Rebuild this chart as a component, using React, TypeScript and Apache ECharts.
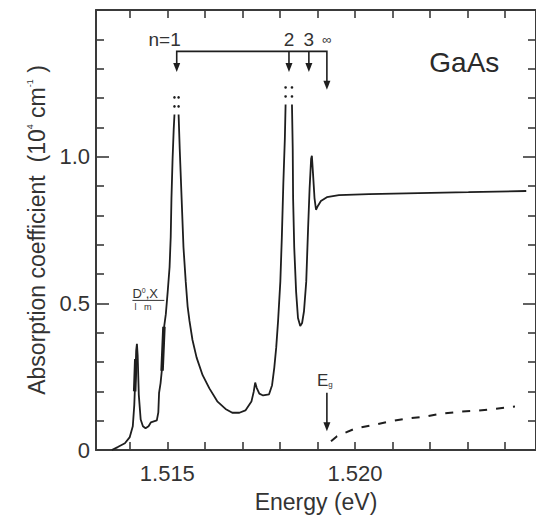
import React, { useEffect, useRef } from 'react';
import * as echarts from 'echarts';

// Photon energy (eV) and absorption coefficient (10^4 cm^-1) of high-purity GaAs.
// A null value marks where an off-scale exciton peak is broken off.
const energy = [
  1.51352, 1.51368, 1.51387, 1.514, 1.51408, 1.51412, 1.51415, 1.51417, 1.51419, 1.51421,
  1.51424, 1.51429, 1.51435, 1.51442, 1.5145, 1.51456, 1.51472, 1.51476, 1.51478, 1.51482,
  1.51488, 1.5149, 1.51496, 1.51501, 1.51506, 1.51509, 1.51511, 1.51514, 1.51517, 1.51519,
  1.51524,
  1.5153, 1.51533, 1.51538, 1.51543, 1.51549, 1.51554, 1.51559, 1.51567, 1.51578, 1.51594,
  1.51612, 1.51633, 1.51655, 1.51673, 1.51692, 1.51708, 1.51724, 1.5173, 1.51734, 1.51738,
  1.51745, 1.51755, 1.51771, 1.51779, 1.51785, 1.5179, 1.51795, 1.51801, 1.51805, 1.51809,
  1.51813, 1.51815,
  1.51824,
  1.51832, 1.51834, 1.51835, 1.51838, 1.51843, 1.51848, 1.51854, 1.51859, 1.51864, 1.5187,
  1.51875, 1.51879, 1.51883, 1.51885, 1.51888, 1.51892, 1.51896, 1.51901, 1.51909, 1.51925,
  1.51957, 1.52037, 1.52169, 1.52302, 1.52456,
];
const absorption = [
  0, 0.01, 0.023, 0.044, 0.081, 0.154, 0.255, 0.339, 0.362, 0.322,
  0.188, 0.104, 0.081, 0.074, 0.081, 0.094, 0.101, 0.128, 0.195, 0.228,
  0.305, 0.406, 0.463, 0.54, 0.624, 0.725, 0.859, 0.993, 1.094, 1.144,
  null,
  1.144, 1.027, 0.859, 0.691, 0.574, 0.49, 0.44, 0.375, 0.315, 0.255,
  0.21, 0.166, 0.14, 0.127, 0.127, 0.135, 0.165, 0.198, 0.23, 0.212,
  0.192, 0.186, 0.19, 0.221, 0.282, 0.349, 0.44, 0.574, 0.725, 0.909,
  1.06, 1.178,
  null,
  1.178, 1.027, 0.859, 0.691, 0.54, 0.45, 0.423, 0.433, 0.473, 0.574,
  0.758, 0.893, 0.993, 1.003, 0.943, 0.859, 0.819, 0.832, 0.849, 0.862,
  0.869, 0.872, 0.876, 0.879, 0.883,
];

// Dense bound-exciton line groups drawn heavier
const boundLineEnergy = [1.51413, 1.51416, null, 1.51486, 1.51491];
const boundLineAbs = [0.2, 0.31, null, 0.27, 0.42];

// Band-to-band continuum without excitonic enhancement (dashed)
const continuumEnergy = [
  1.51936, 1.51952, 1.52002, 1.52045, 1.5209, 1.52137, 1.52188, 1.5223, 1.52283, 1.52328,
  1.52376, 1.52426,
];
const continuumAbs = [
  0.03, 0.047, 0.074, 0.084, 0.097, 0.107, 0.114, 0.124, 0.131, 0.134, 0.141, 0.148,
];

// Exciton series n = 1, 2, 3, ... converging on the gap
const excitonLabels = ['n=1', '2', '3', '\u221e'];
const excitonEnergies = [1.51525, 1.51824, 1.51877, 1.51925];
const bandGap = 1.51925;

const xTicks = [1.514, 1.515, 1.516, 1.517, 1.518, 1.519, 1.52, 1.521, 1.522, 1.523, 1.524];
const xLabels = [1.515, 1.52];
const X_MIN = 1.5131;
const X_MAX = 1.52482;

const FONT = "'Liberation Sans', Arial, Helvetica, sans-serif";
const TEXT = '#333';
const INK = '#1e1e1e';
const AXIS = '#3a3a3a';

export default function App() {
  const ref = useRef<HTMLDivElement>(null);

  useEffect(() => {
    const chart = echarts.init(ref.current as HTMLDivElement, null, { renderer: 'svg' });
    const pairs = (xs: (number | null)[], ys: (number | null)[]) =>
      xs.map((x, i) => (x === null || ys[i] === null ? [x ?? NaN, NaN] : [x, ys[i]]));

    const axisLine = { show: true, onZero: false, lineStyle: { color: AXIS, width: 2 } };
    const tickStyle = { color: AXIS, width: 1.6 };

    chart.setOption({
      animation: false,
      backgroundColor: '#fff',
      grid: { left: 96, top: 10, width: 442, height: 447, containLabel: false },
      xAxis: [
        {
          type: 'value',
          position: 'bottom',
          min: X_MIN,
          max: X_MAX,
          name: 'Energy (eV)',
          nameLocation: 'middle',
          nameGap: 40,
          nameTextStyle: { fontFamily: FONT, fontSize: 23, color: TEXT },
          axisLine,
          axisTick: { show: true, inside: true, length: 8, customValues: xTicks, lineStyle: tickStyle },
          axisLabel: {
            customValues: xLabels,
            formatter: (v: number) => v.toFixed(3),
            fontFamily: FONT,
            fontSize: 22,
            color: TEXT,
            margin: 12,
          },
          splitLine: { show: false },
        },
        {
          type: 'value',
          position: 'top',
          min: X_MIN,
          max: X_MAX,
          axisLine,
          axisTick: { show: true, inside: true, length: 8, customValues: xTicks, lineStyle: tickStyle },
          axisLabel: { show: false },
          splitLine: { show: false },
        },
      ],
      yAxis: [
        {
          type: 'value',
          position: 'left',
          min: 0,
          max: 1.5,
          interval: 0.5,
          name: 'Absorption coefficient  (10{s|4} cm{s|-1} )',
          nameLocation: 'middle',
          nameRotate: 90,
          nameGap: 46,
          nameTextStyle: {
            fontFamily: FONT,
            fontSize: 23,
            color: TEXT,
            rich: { s: { fontFamily: FONT, fontSize: 9, color: TEXT, verticalAlign: 'top' } },
          },
          axisLine,
          axisTick: { show: true, inside: true, length: 13, lineStyle: tickStyle },
          minorTick: { show: true, splitNumber: 5, length: 8, lineStyle: tickStyle },
          axisLabel: {
            formatter: (v: number) => (v === 0 ? '0' : v > 1.4 ? '' : v.toFixed(1)),
            fontFamily: FONT,
            fontSize: 22,
            color: TEXT,
            margin: 6,
          },
          splitLine: { show: false },
          minorSplitLine: { show: false },
        },
        {
          type: 'value',
          position: 'right',
          min: 0,
          max: 1.5,
          interval: 0.5,
          axisLine,
          axisTick: { show: true, inside: true, length: 13, lineStyle: tickStyle },
          minorTick: { show: true, splitNumber: 5, length: 8, lineStyle: tickStyle },
          axisLabel: { show: false },
          splitLine: { show: false },
          minorSplitLine: { show: false },
        },
      ],
      series: [
        {
          type: 'line',
          data: pairs(energy, absorption),
          showSymbol: false,
          connectNulls: false,
          lineStyle: { color: INK, width: 1.8 },
        },
        {
          type: 'line',
          data: pairs(boundLineEnergy, boundLineAbs),
          showSymbol: false,
          connectNulls: false,
          lineStyle: { color: INK, width: 3.5 },
        },
        {
          type: 'line',
          data: pairs(continuumEnergy, continuumAbs),
          showSymbol: false,
          lineStyle: { color: INK, width: 2, type: [8, 9] },
        },
      ],
    });

    const px = (e: number, v: number) =>
      chart.convertToPixel({ xAxisIndex: 0, yAxisIndex: 0 }, [e, v]) as number[];

    const graphics: any[] = [];
    const lineStyle = { stroke: INK, lineWidth: 1.6, fill: null };
    const arrowHead = (x: number, y: number) => ({
      type: 'polygon',
      shape: { points: [[x - 3.5, y - 9], [x + 3.5, y - 9], [x, y]] },
      style: { fill: INK },
    });

    // Exciton series bracket with arrows
    const barV = 1.359;
    const tipV = 1.289;
    const infTipV = 1.228;
    const first = px(excitonEnergies[0], barV);
    const last = px(excitonEnergies[excitonEnergies.length - 1], barV);
    graphics.push({
      type: 'polyline',
      shape: { points: [[first[0], px(0, tipV)[1] - 8], first, last, [last[0], px(0, infTipV)[1] - 8]] },
      style: lineStyle,
    });
    excitonEnergies.forEach((e, i) => {
      const tipY = px(e, i === excitonEnergies.length - 1 ? infTipV : tipV);
      if (i > 0 && i < excitonEnergies.length - 1) {
        graphics.push({
          type: 'line',
          shape: { x1: tipY[0], y1: first[1], x2: tipY[0], y2: tipY[1] - 8 },
          style: lineStyle,
        });
      }
      graphics.push(arrowHead(tipY[0], tipY[1]));
      const lp = px(e, 1.4);
      const isFirst = i === 0;
      const isInf = i === excitonEnergies.length - 1;
      graphics.push({
        type: 'text',
        x: isFirst ? lp[0] + 4 : lp[0],
        y: lp[1],
        style: {
          text: excitonLabels[i],
          fontFamily: FONT,
          fontSize: isInf ? 13 : 19,
          fill: TEXT,
          align: isFirst ? 'right' : 'center',
          verticalAlign: 'middle',
        },
      });
    });

    // Break marks above the truncated peaks
    absorption.forEach((v, i) => {
      if (v !== null) return;
      const left = px(energy[i - 1], absorption[i - 1] as number);
      const right = px(energy[i + 1], absorption[i + 1] as number);
      const top = Math.min(left[1], right[1]);
      [8, 17].forEach((dy) => {
        [left[0], right[0]].forEach((x) => {
          graphics.push({ type: 'circle', shape: { cx: x, cy: top - dy, r: 1.3 }, style: { fill: INK } });
        });
      });
    });

    // Band gap marker
    const egTop = px(bandGap, 0.195);
    const egTip = px(bandGap, 0.064);
    graphics.push({
      type: 'line',
      shape: { x1: egTop[0], y1: egTop[1], x2: egTip[0], y2: egTip[1] - 8 },
      style: lineStyle,
    });
    graphics.push(arrowHead(egTip[0], egTip[1]));
    const egLabel = px(bandGap, 0.238);
    graphics.push({
      type: 'text',
      x: egLabel[0] - 2,
      y: egLabel[1],
      style: {
        text: '{a|E}{b|g}',
        align: 'center',
        verticalAlign: 'middle',
        rich: {
          a: { fontFamily: FONT, fontSize: 17, fill: TEXT },
          b: { fontFamily: FONT, fontSize: 8, fill: TEXT, verticalAlign: 'bottom' },
        },
      },
    });

    // Neutral-donor bound exciton label
    const dx = px(1.51407, 0.555);
    const dxEnd = px(1.51492, 0.51);
    graphics.push({
      type: 'text',
      x: dx[0],
      y: dx[1],
      style: {
        text: '{a|D}{s|0}{a|,X}',
        align: 'left',
        verticalAlign: 'top',
        rich: {
          a: { fontFamily: FONT, fontSize: 13, fill: TEXT },
          s: { fontFamily: FONT, fontSize: 7, fill: TEXT, verticalAlign: 'top' },
        },
      },
    });
    graphics.push({
      type: 'line',
      shape: { x1: dx[0], y1: dxEnd[1], x2: dxEnd[0], y2: dxEnd[1] },
      style: { stroke: TEXT, lineWidth: 1 },
    });
    graphics.push({
      type: 'text',
      x: dx[0] + 2,
      y: dxEnd[1] + 2,
      style: { text: 'l   m', fontFamily: FONT, fontSize: 9, fill: TEXT, align: 'left', verticalAlign: 'top' },
    });

    // Material label
    const mat = px(1.52291, 1.322);
    graphics.push({
      type: 'text',
      x: mat[0],
      y: mat[1],
      style: { text: 'GaAs', fontFamily: FONT, fontSize: 28, fill: '#2a2a2a', align: 'center', verticalAlign: 'middle' },
    });

    chart.setOption({ graphic: graphics });

    return () => chart.dispose();
  }, []);

  return (
    <div
      ref={ref}
      style={{ position: 'absolute', left: 0, top: 0, width: 536, height: 518, background: '#fff' }}
    />
  );
}
